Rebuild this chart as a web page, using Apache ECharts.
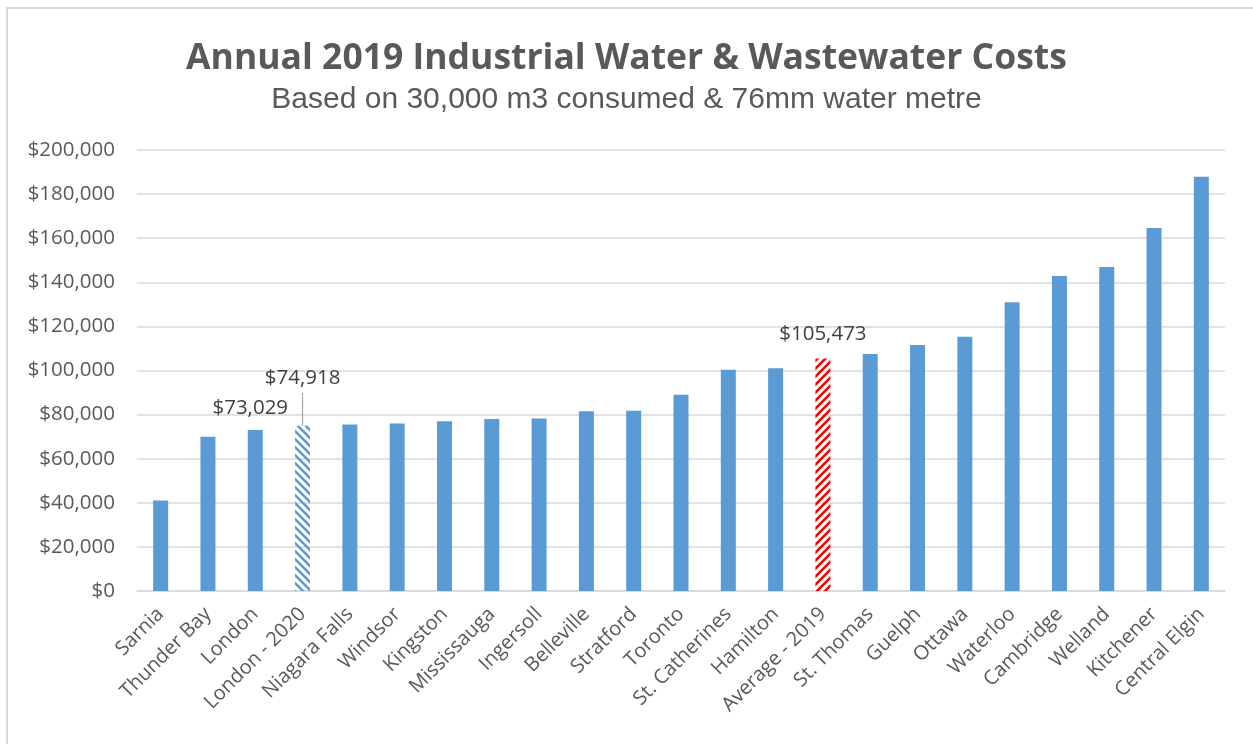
<!DOCTYPE html>
<html>
<head>
<meta charset="utf-8">
<script src="https://cdn.jsdelivr.net/npm/echarts@6/dist/echarts.min.js"></script>
<style>
html,body{margin:0;padding:0;background:#fff;}
#chart{width:1253px;height:744px;}
</style>
</head>
<body>
<div id="chart"></div>
<script>
const categories = ["Sarnia","Thunder Bay","London","London - 2020","Niagara Falls","Windsor","Kingston","Mississauga","Ingersoll","Belleville","Stratford","Toronto","St. Catherines","Hamilton","Average - 2019","St. Thomas","Guelph","Ottawa","Waterloo","Cambridge","Welland","Kitchener","Central Elgin"];
const costs = [41000,70000,73029,74918,75500,76000,77000,78000,78200,81500,81700,89000,100300,101000,105473,107500,111600,115300,131000,142900,146900,164600,187900];
const hatchBlue = "London - 2020";
const hatchRed = "Average - 2019";
const yTicks = [0,20000,40000,60000,80000,100000,120000,140000,160000,180000,200000];
const titleText = "Annual 2019 Industrial Water & Wastewater Costs";
const subtitleText = "Based on 30,000 m3 consumed & 76mm water metre";

function makeHatch(color, dir) {
  const c = document.createElement('canvas');
  const s = 8;
  c.width = s; c.height = s;
  const ctx = c.getContext('2d');
  ctx.strokeStyle = color;
  ctx.lineWidth = 2.6;
  ctx.beginPath();
  if (dir === 'back') {
    ctx.moveTo(0, 0); ctx.lineTo(s, s);
    ctx.moveTo(-s/2, s/2); ctx.lineTo(s/2, s*1.5);
    ctx.moveTo(s/2, -s/2); ctx.lineTo(s*1.5, s/2);
  } else {
    ctx.moveTo(0, s); ctx.lineTo(s, 0);
    ctx.moveTo(-s/2, s/2); ctx.lineTo(s/2, -s/2);
    ctx.moveTo(s/2, s*1.5); ctx.lineTo(s*1.5, s/2);
  }
  ctx.stroke();
  return c;
}

const fmt = v => '$' + v.toLocaleString('en-US');

const seriesData = categories.map((cat, i) => {
  const item = { value: costs[i] };
  if (cat === hatchBlue) {
    item.itemStyle = { color: { image: makeHatch('#5b9bd5', 'back'), repeat: 'repeat' } };
  } else if (cat === hatchRed) {
    item.itemStyle = { color: { image: makeHatch('#ff0000', 'fwd'), repeat: 'repeat' } };
  }
  if (cat === "London") {
    item.label = { show: true, position: 'top', distance: 11, offset: [-5, 0] };
  } else if (cat === hatchBlue) {
    item.label = { show: true, position: 'top', distance: 37 };
  } else if (cat === hatchRed) {
    item.label = { show: true, position: 'top', distance: 14 };
  }
  return item;
});

const chart = echarts.init(document.getElementById('chart'));
chart.setOption({
  backgroundColor: '#ffffff',
  animation: false,
  graphic: [{
    type: 'rect',
    shape: { x: 7, y: 8, width: 1260, height: 800 },
    style: { fill: 'none', stroke: '#d9d9d9', lineWidth: 2 },
    silent: true, z: -1
  }],
  title: [{
    text: titleText,
    left: 'center',
    top: 36,
    textStyle: { fontFamily: 'Open Sans', fontWeight: 'bold', fontSize: 35.5, color: '#595959' }
  }, {
    text: subtitleText,
    left: 'center',
    top: 80,
    textStyle: { fontFamily: 'Liberation Sans', fontWeight: 'normal', fontSize: 30, color: '#595959' }
  }],
  grid: { left: 137, right: 28, top: 150, bottom: 153, containLabel: false },
  xAxis: {
    type: 'category',
    data: categories,
    axisLine: { show: true, lineStyle: { color: '#d9d9d9', width: 1.5 } },
    axisTick: { show: false },
    axisLabel: { rotate: 45, interval: 0, fontFamily: 'Open Sans', fontSize: 20, color: '#595959', margin: 20 }
  },
  yAxis: {
    type: 'value',
    min: 0, max: 200000, interval: 20000,
    axisLine: { show: false },
    axisTick: { show: false },
    splitLine: { lineStyle: { color: '#d9d9d9', width: 1.5 } },
    axisLabel: {
      fontFamily: 'Open Sans', fontSize: 20.5, color: '#595959', margin: 22,
      formatter: v => yTicks.includes(v) ? fmt(v) : ''
    }
  },
  series: [{
    type: 'bar',
    data: seriesData,
    barWidth: 15,
    itemStyle: { color: '#5b9bd5' },
    label: {
      show: false,
      formatter: p => fmt(p.value),
      fontFamily: 'Open Sans', fontSize: 20.5, color: '#404040'
    },
    markLine: {
      silent: true,
      symbol: ['none', 'none'],
      label: { show: false },
      lineStyle: { color: '#a6a6a6', type: 'solid', width: 1.2 },
      data: [[
        { coord: [hatchBlue, costs[categories.indexOf(hatchBlue)]] },
        { coord: [hatchBlue, costs[categories.indexOf(hatchBlue)] + 14900] }
      ]]
    }
  }]
});
</script>
</body>
</html>
